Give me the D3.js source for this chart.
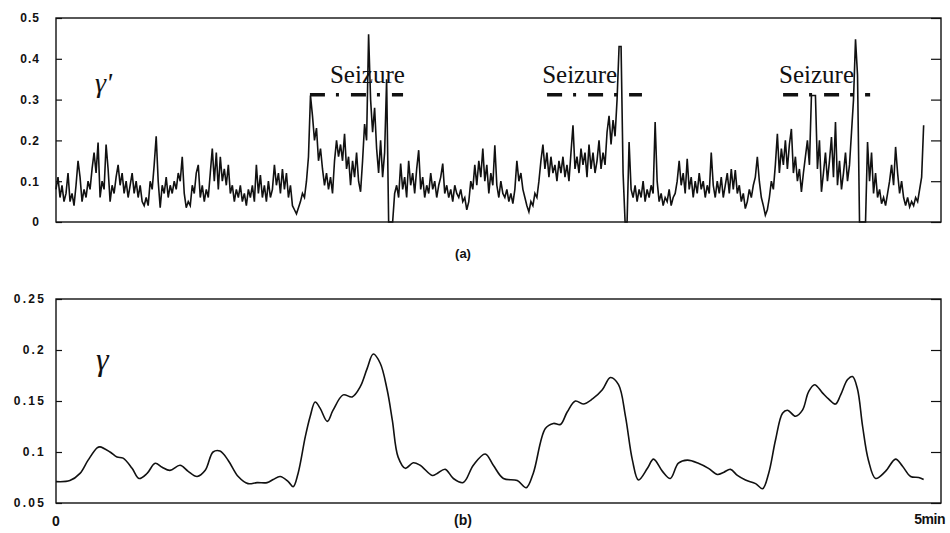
<!DOCTYPE html>
<html>
<head>
<meta charset="utf-8">
<script src="https://cdn.jsdelivr.net/npm/d3@7/dist/d3.min.js"></script>
<style>
  html, body { margin: 0; padding: 0; background: #fff; }
  svg { display: block; }
</style>
</head>
<body>
<svg id="fig" width="950" height="533"></svg>
<script>
// γ' — instantaneous measure, sampled evenly over the 5-minute record (seconds 0..300)
const gammaPrimeValues = [
  .08,.11,.06,.09,.05,.07,.12,.05,.07,.04,
  .09,.15,.11,.05,.08,.06,.10,.08,.13,.17,
  .12,.195,.06,.10,.08,.19,.13,.05,.09,.07,
  .11,.14,.09,.12,.07,.10,.06,.09,.12,.07,
  .10,.06,.09,.05,.04,.06,.04,.10,.08,.14,
  .21,.10,.035,.09,.07,.11,.06,.09,.07,.10,
  .08,.12,.10,.16,.07,.035,.05,.04,.09,.07,
  .12,.14,.06,.09,.05,.08,.06,.12,.18,.10,
  .17,.08,.16,.10,.13,.09,.14,.07,.09,.05,
  .08,.06,.09,.05,.07,.04,.08,.06,.09,.05,
  .14,.07,.115,.06,.09,.05,.10,.06,.08,.14,
  .09,.12,.07,.13,.08,.12,.06,.09,.04,.03,
  .02,.035,.05,.07,.06,.10,.16,.31,.26,.20,
  .23,.15,.18,.13,.09,.12,.08,.11,.07,.15,
  .20,.16,.19,.15,.216,.13,.16,.09,.15,.11,
  .17,.10,.074,.15,.24,.20,.46,.30,.22,.28,
  .18,.12,.20,.11,.17,.35,0,0,0,.07,
  .09,.06,.143,.08,.11,.06,.15,.09,.12,.07,
  .13,.176,.08,.11,.06,.09,.07,.12,.08,.10,
  .06,.09,.11,.143,.07,.09,.06,.08,.05,.09,
  .07,.06,.08,.05,.06,.03,.05,.10,.08,.14,
  .09,.15,.11,.18,.10,.14,.07,.12,.09,.188,
  .09,.06,.10,.07,.06,.08,.05,.07,.045,.08,
  .15,.10,.12,.08,.06,.04,.025,.05,.04,.07,
  .06,.10,.15,.19,.13,.17,.11,.16,.12,.14,
  .10,.15,.12,.16,.11,.14,.10,.17,.237,.13,
  .16,.12,.18,.14,.17,.11,.19,.13,.17,.12,
  .15,.20,.13,.17,.14,.22,.26,.19,.25,.21,
  .30,.43,.43,.12,0,0,.196,.08,.06,.09,
  .05,.08,.06,.10,.05,.08,.06,.09,.07,.245,
  .10,.05,.07,.04,.06,.05,.08,.04,.06,.07,
  .10,.15,.09,.12,.07,.155,.08,.11,.06,.10,
  .07,.12,.08,.10,.06,.09,.07,.17,.09,.06,
  .10,.07,.11,.06,.09,.12,.07,.13,.08,.127,
  .07,.09,.05,.07,.033,.05,.08,.06,.09,.11,
  .16,.10,.06,.04,.017,.03,.06,.10,.08,.14,
  .216,.12,.18,.14,.20,.13,.19,.228,.12,.16,
  .10,.13,.074,.12,.16,.20,.14,.31,.31,.31,
  .13,.20,.074,.12,.17,.10,.15,.208,.11,.245,
  .09,.15,.08,.12,.17,.10,.14,.22,.30,.448,
  .36,0,0,0,0,.196,.10,.17,.07,.12,
  .06,.08,.045,.06,.04,.07,.10,.14,.09,.184,
  .12,.07,.10,.06,.04,.06,.037,.05,.04,.06,
  .05,.08,.11,.237
];

// γ — smoothed measure: sample times (s) and values
const gammaTimes = [
  0,4.8,8.3,11.1,14.2,15.2,18.7,21.1,23.2,26.3,28.7,31.5,34.3,36.7,39.4,42.9,45.7,48.8,51.6,54.3,
  56.7,59.5,63.0,66.4,69.5,73.0,75.1,77.5,80.3,82.0,83.7,86.2,87.9,89.6,91.3,93.8,95.8,99.3,102.4,105.2,
  107.6,109.7,112.1,114.5,116.3,118.3,120.8,123.5,125.9,130.1,131.8,134.6,137.4,140.8,144.3,148.4,151.2,154.7,159.5,162.6,
  165.0,169.2,172.0,174.4,176.8,179.6,182.3,185.5,188.9,191.7,194.5,196.9,199.3,201.4,204.5,206.6,209.7,212.4,215.2,218.3,
  222.1,225.6,228.7,230.8,233.2,235.6,238.4,241.9,244.3,246.4,248.8,251.2,252.9,255.7,258.1,260.2,262.3,265.0,267.1,269.5,
  271.3,273.7,275.4,277.1,278.9,280.9,283.4,286.8,290.3,292.7,295.5,298.3,300
];
const gammaValues = [
  .071,.072,.079,.092,.104,.105,.100,.095,.094,.084,.074,.079,.089,.085,.082,.087,.081,.076,.082,.100,
  .101,.092,.076,.069,.070,.070,.073,.076,.071,.066,.079,.115,.135,.149,.143,.130,.141,.156,.154,.164,
  .182,.196,.187,.161,.131,.095,.084,.0895,.087,.077,.079,.083,.074,.070,.087,.098,.087,.074,.072,.065,
  .079,.123,.128,.127,.1395,.150,.147,.152,.161,.173,.166,.135,.092,.0725,.084,.093,.081,.074,.089,.092,
  .089,.084,.078,.080,.083,.077,.0725,.069,.064,.079,.112,.138,.141,.135,.141,.159,.166,.158,.152,.147,
  .156,.171,.174,.162,.125,.092,.074,.081,.093,.086,.076,.075,.073
];

// seizure intervals (s), their marker level and label anchors
const seizureStart = [87.8, 169.8, 251.4];
const seizureEnd = [120.0, 202.6, 281.5];
const seizureLevel = 0.312;
const seizureLabelAt = [94.7, 168.1, 250.0];
const seizureLabel = "Seizure";

const topTicks = [0, 0.1, 0.2, 0.3, 0.4, 0.5];
const topTickLabels = ["0", "0.1", "0.2", "0.3", "0.4", "0.5"];
const bottomTicks = [0.05, 0.1, 0.15, 0.2, 0.25];
const bottomTickLabels = ["0.05", "0.1", "0.15", "0.2", "0.25"];
const timeLabels = ["0", "5min"];

const svg = d3.select("#fig");
const SANS = "'Liberation Sans', Arial, sans-serif";
const SERIF = "'Liberation Serif', 'Times New Roman', serif";
const INK = "#111";

const left = 56, right = 941;
const x = d3.scaleLinear().domain([0, 306]).range([left, right]);

function panel(top, bottom, domain, ticks, labels, labelGap, spacing) {
  const y = d3.scaleLinear().domain(domain).range([bottom, top]);
  const g = svg.append("g");
  const ax = d3.axisLeft(y).tickValues(ticks)
    .tickFormat((d, i) => labels[i])
    .tickSizeInner(-6).tickSizeOuter(0).tickPadding(labelGap);
  const gl = g.append("g").attr("transform", `translate(${left},0)`).call(ax);
  gl.select(".domain").remove();
  gl.selectAll("line").attr("stroke", INK).attr("stroke-width", 1.2);
  gl.selectAll("text").attr("font-family", SANS).attr("font-weight", "bold")
    .attr("font-size", 12).attr("letter-spacing", spacing).attr("fill", INK);
  const ar = d3.axisRight(y).tickValues(ticks).tickFormat("")
    .tickSizeInner(-10).tickSizeOuter(0);
  const gr = g.append("g").attr("transform", `translate(${right},0)`).call(ar);
  gr.select(".domain").remove();
  gr.selectAll("line").attr("stroke", INK).attr("stroke-width", 1.2);
  g.append("rect").attr("x", left).attr("y", top)
    .attr("width", right - left).attr("height", bottom - top)
    .attr("fill", "none").attr("stroke", INK).attr("stroke-width", 1.4);
  return { y, g };
}

// (a) γ'
const A = panel(18, 222, [0, 0.5], topTicks, topTickLabels, 16, 1);
const n = gammaPrimeValues.length;
const lineA = d3.line()
  .x((d, i) => x(i / (n - 1) * 300))
  .y(d => A.y(d));
A.g.append("path").datum(gammaPrimeValues).attr("d", lineA)
  .attr("fill", "none").attr("stroke", INK).attr("stroke-width", 1.6)
  .attr("stroke-linejoin", "miter");

seizureStart.forEach((s, i) => {
  A.g.append("line")
    .attr("x1", x(s)).attr("x2", x(seizureEnd[i]))
    .attr("y1", A.y(seizureLevel)).attr("y2", A.y(seizureLevel))
    .attr("stroke", INK).attr("stroke-width", 3.5)
    .attr("stroke-dasharray", "15,11,3,12");
  A.g.append("text").attr("x", x(seizureLabelAt[i])).attr("y", 83)
    .attr("font-family", SERIF).attr("font-size", 25).attr("fill", INK)
    .text(seizureLabel);
});

A.g.append("text").attr("x", 95).attr("y", 92)
  .attr("font-family", SERIF).attr("font-style", "italic").attr("font-size", 28)
  .attr("fill", INK).text("γ'");

svg.append("text").attr("x", 463).attr("y", 258).attr("text-anchor", "middle")
  .attr("font-family", SANS).attr("font-weight", "bold").attr("font-size", 13)
  .attr("fill", INK).text("(a)");

// (b) γ
const B = panel(299, 503, [0.05, 0.25], bottomTicks, bottomTickLabels, 10, 2.2);
const lineB = d3.line()
  .x((d, i) => x(gammaTimes[i]))
  .y(d => B.y(d))
  .curve(d3.curveCatmullRom.alpha(0.5));
B.g.append("path").datum(gammaValues).attr("d", lineB)
  .attr("fill", "none").attr("stroke", INK).attr("stroke-width", 1.6);

B.g.append("text").attr("x", 96).attr("y", 370)
  .attr("font-family", SERIF).attr("font-style", "italic").attr("font-size", 32)
  .attr("fill", INK).text("γ");

svg.append("text").attr("x", 463).attr("y", 525).attr("text-anchor", "middle")
  .attr("font-family", SANS).attr("font-weight", "bold").attr("font-size", 14)
  .attr("fill", INK).text("(b)");

svg.append("text").attr("x", x(0)).attr("y", 526).attr("text-anchor", "middle")
  .attr("font-family", SANS).attr("font-weight", "bold").attr("font-size", 14)
  .attr("fill", INK).text(timeLabels[0]);
svg.append("text").attr("x", 945).attr("y", 524).attr("text-anchor", "end")
  .attr("font-family", SANS).attr("font-weight", "bold").attr("font-size", 14)
  .attr("letter-spacing", -0.5).attr("fill", INK).text(timeLabels[1]);
</script>
</body>
</html>
